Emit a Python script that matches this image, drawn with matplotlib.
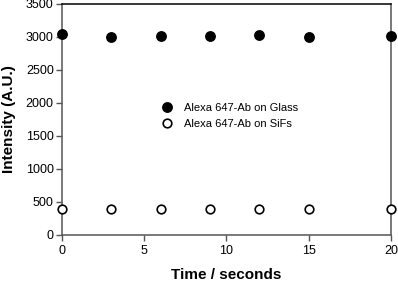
import matplotlib
matplotlib.use('Agg')
import matplotlib.pyplot as plt

plt.rcParams['font.family'] = ['Liberation Sans', 'DejaVu Sans']

time_s = [0, 3, 6, 9, 12, 15, 20]
glass = [3050, 3000, 3020, 3010, 3030, 3000, 3010]
sifs = [395, 395, 395, 392, 390, 390, 390]

fig = plt.figure(figsize=(3.98, 2.81), dpi=100, facecolor='white')
ax = fig.add_axes([0.156, 0.164, 0.826, 0.822])

ax.plot(time_s, glass, 'o', color='black', markersize=6.8, clip_on=False,
        label='Alexa 647-Ab on Glass', zorder=3)
ax.plot(time_s, sifs, 'o', markerfacecolor='white', markeredgecolor='black',
        markeredgewidth=1.2, markersize=6.2, clip_on=False,
        label='Alexa 647-Ab on SiFs', zorder=3)

ax.set_xlim(0, 20)
ax.set_ylim(0, 3500)
ax.set_xticks([0, 5, 10, 15, 20])
ax.set_yticks(range(0, 3501, 500))
ax.tick_params(direction='out', length=4, width=1, color='#555555', labelsize=9, pad=3)
ax.tick_params(axis='y', pad=2)
for s in ax.spines.values():
    s.set_color('#555555'); s.set_linewidth(1.1)
ax.spines['top'].set_color('black')

ax.set_xlabel('Time / seconds', fontsize=11, fontweight='bold', labelpad=8)
ax.set_ylabel('Intensity (A.U.)', fontsize=11, fontweight='bold', labelpad=7)

ax.legend(loc='center left', bbox_to_anchor=(0.272, 0.515), frameon=False, fontsize=8,
          handletextpad=1.05, labelspacing=0.5, handlelength=1.0)

plt.savefig('out.png', dpi=100, facecolor='white')
plt.close()
